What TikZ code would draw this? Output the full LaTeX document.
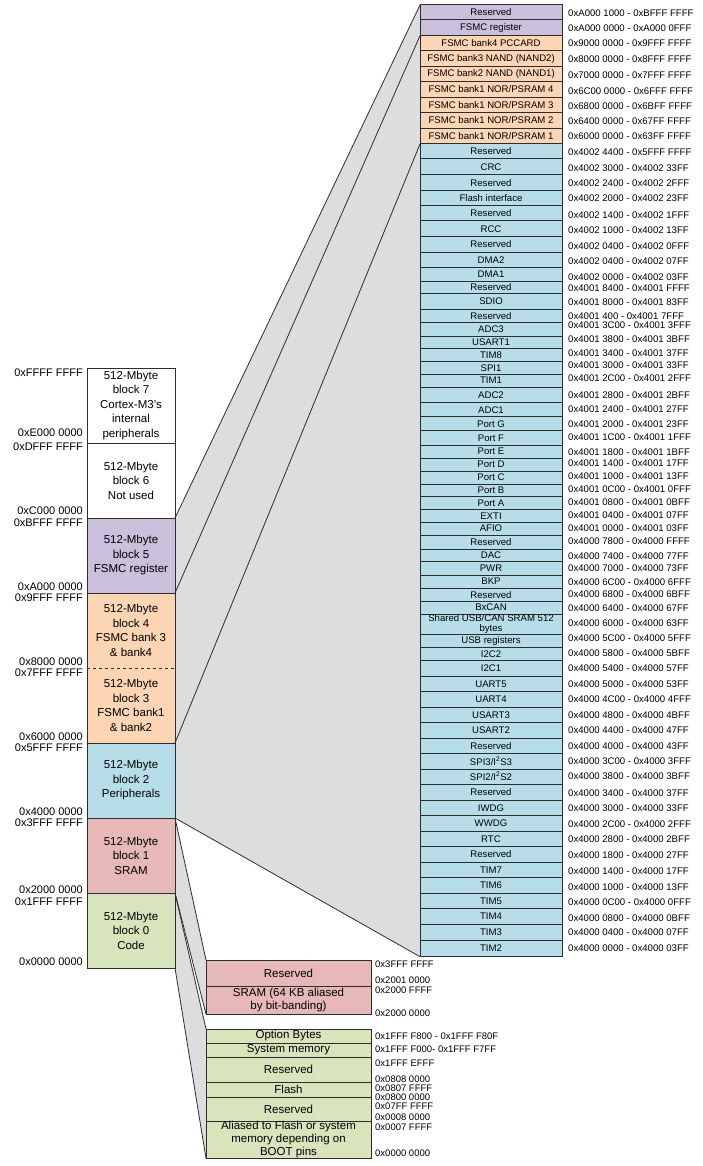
\documentclass[tikz,border=0pt]{standalone}
\usepackage{fontspec}
\setmainfont{Liberation Sans}
\usetikzlibrary{backgrounds}
\definecolor{lc}{RGB}{45,45,45}
\definecolor{cP}{RGB}{203,192,220}
\definecolor{cO}{RGB}{252,213,180}
\definecolor{cB}{RGB}{183,222,232}
\definecolor{cR}{RGB}{230,184,183}
\definecolor{cG}{RGB}{216,228,188}
\definecolor{bandgray}{RGB}{220,221,223}
\newcommand{\fA}{\fontsize{11.5}{14.5}\selectfont}
\newcommand{\fL}{\fontsize{11}{13}\selectfont}
\newcommand{\fB}{\fontsize{9.6}{10}\selectfont}
\newcommand{\fC}{\fontsize{11.5}{13}\selectfont}
\newcommand{\fD}{\fontsize{9.5}{10}\selectfont}
\tikzset{
  cell/.style={draw=lc, line width=1pt, minimum width=142pt, inner sep=0pt, outer sep=0pt, align=center, font=\fB},
  blk/.style={draw=lc, line width=1pt, minimum width=88pt, minimum height=75pt, inner sep=0pt, outer sep=0pt, align=center, font=\fA},
  bbox/.style={draw=lc, line width=1pt, minimum width=165pt, inner sep=0pt, outer sep=0pt, align=center, font=\fC},
  addr/.style={anchor=west, inner sep=0pt, font=\fB},
  baddr/.style={anchor=west, inner sep=0pt, font=\fD},
  laddr/.style={anchor=east, inner sep=0pt, font=\fL},
  proj/.style={draw=lc, line width=0.8pt},
}
\newcommand{\memrow}[7]{%
  \pgfmathsetmacro{\mrh}{#3-#2}%
  \pgfmathsetmacro{\mry}{(#2+#3)/2}%
  \node[cell, fill=#4, minimum height=\mrh pt] (#1) at (491,\mry) {#5};%
  \node[addr] (#1a) at (568,#7) {#6};%
}
\begin{document}
\begin{tikzpicture}[x=1pt,y=-1pt]
\useasboundingbox (0,0) rectangle (702,1166);

% ---- left column blocks
\node[blk, fill=white] (b7) at (131,405.5) {512-Mbyte\\block 7\\Cortex-M3's\\internal\\peripherals};
\node[blk, fill=white] (b6) at (131,480.5) {512-Mbyte\\block 6\\Not used};
\node[blk, fill=cP] (b5) at (131,555.5) {512-Mbyte\\block 5\\FSMC register};
\node[blk, fill=cO, draw=none] (b4) at (131,630.5) {512-Mbyte\\block 4\\FSMC bank 3\\\& bank4};
\node[blk, fill=cO, draw=none] (b3) at (131,705.5) {512-Mbyte\\block 3\\FSMC bank1\\\& bank2};
\draw[lc, line width=1pt] (b4.north west) rectangle (b3.south east);
\draw[lc, line width=0.9pt, dash pattern=on 3pt off 3pt] (b4.south west) -- (b4.south east);
\node[blk, fill=cB] (b2) at (131,780.5) {512-Mbyte\\block 2\\Peripherals};
\node[blk, fill=cR] (b1) at (131,855.5) {512-Mbyte\\block 1\\SRAM};
\node[blk, fill=cG] (b0) at (131,930.5) {512-Mbyte\\block 0\\Code};

% ---- left address labels
\node[laddr] (la1) at (83,373) {0xFFFF FFFF};
\node[laddr] (la2) at (83,433) {0xE000 0000};
\node[laddr] (la3) at (83,447) {0xDFFF FFFF};
\node[laddr] (la4) at (83,511) {0xC000 0000};
\node[laddr] (la5) at (83,523) {0xBFFF FFFF};
\node[laddr] (la6) at (83,587) {0xA000 0000};
\node[laddr] (la7) at (83,598) {0x9FFF FFFF};
\node[laddr] (la8) at (83,662) {0x8000 0000};
\node[laddr] (la9) at (83,673) {0x7FFF FFFF};
\node[laddr] (la10) at (83,737) {0x6000 0000};
\node[laddr] (la11) at (83,748) {0x5FFF FFFF};
\node[laddr] (la12) at (83,812) {0x4000 0000};
\node[laddr] (la13) at (83,823) {0x3FFF FFFF};
\node[laddr] (la14) at (83,890) {0x2000 0000};
\node[laddr] (la15) at (83,902) {0x1FFF FFFF};
\node[laddr] (la16) at (83,962) {0x0000 0000};

% ---- right column
\memrow{r1}{5}{20}{cP}{Reserved}{0xA000 1000 - 0xBFFF FFFF}{13}
\memrow{r2}{20}{35.7}{cP}{FSMC register}{0xA000 0000 - 0xA000 0FFF}{28}
\memrow{r3}{35.7}{50.7}{cO}{FSMC bank4 PCCARD}{0x9000 0000 - 0x9FFF FFFF}{43}
\memrow{r4}{50.7}{66.7}{cO}{FSMC bank3 NAND (NAND2)}{0x8000 0000 - 0x8FFF FFFF}{59}
\memrow{r5}{66.7}{81.7}{cO}{FSMC bank2 NAND (NAND1)}{0x7000 0000 - 0x7FFF FFFF}{75}
\memrow{r6}{81.7}{97.3}{cO}{FSMC bank1 NOR/PSRAM 4}{0x6C00 0000 - 0x6FFF FFFF}{91}
\memrow{r7}{97.3}{112.7}{cO}{FSMC bank1 NOR/PSRAM 3}{0x6800 0000 - 0x6BFF FFFF}{106}
\memrow{r8}{112.7}{128.3}{cO}{FSMC bank1 NOR/PSRAM 2}{0x6400 0000 - 0x67FF FFFF}{121}
\memrow{r9}{128.3}{144}{cO}{FSMC bank1 NOR/PSRAM 1}{0x6000 0000 - 0x63FF FFFF}{136}
\memrow{r10}{144}{159}{cB}{Reserved}{0x4002 4400 - 0x5FFF FFFF}{152}
\memrow{r11}{159}{175}{cB}{CRC}{0x4002 3000 - 0x4002 33FF}{168}
\memrow{r12}{175}{190.7}{cB}{Reserved}{0x4002 2400 - 0x4002 2FFF}{183}
\memrow{r13}{190.7}{205.7}{cB}{Flash interface}{0x4002 2000 - 0x4002 23FF}{198}
\memrow{r14}{205.7}{221}{cB}{Reserved}{0x4002 1400 - 0x4002 1FFF}{215}
\memrow{r15}{221}{236.7}{cB}{RCC}{0x4002 1000 - 0x4002 13FF}{230}
\memrow{r16}{236.7}{252.3}{cB}{Reserved}{0x4002 0400 - 0x4002 0FFF}{246}
\memrow{r17}{252.3}{267.7}{cB}{DMA2}{0x4002 0400 - 0x4002 07FF}{261}
\memrow{r18}{267.7}{281}{cB}{DMA1}{0x4002 0000 - 0x4002 03FF}{277}
\memrow{r19}{281}{293.3}{cB}{Reserved}{0x4001 8400 - 0x4001 FFFF}{288}
\memrow{r20}{293.3}{309}{cB}{SDIO}{0x4001 8000 - 0x4001 83FF}{302}
\memrow{r21}{309}{322.7}{cB}{Reserved}{0x4001 400 - 0x4001 7FFF}{316}
\memrow{r22}{322.7}{336}{cB}{ADC3}{0x4001 3C00 - 0x4001 3FFF}{325}
\memrow{r23}{336}{348.3}{cB}{USART1}{0x4001 3800 - 0x4001 3BFF}{339}
\memrow{r24}{348.3}{361.7}{cB}{TIM8}{0x4001 3400 - 0x4001 37FF}{353}
\memrow{r25}{361.7}{374}{cB}{SPI1}{0x4001 3000 - 0x4001 33FF}{365}
\memrow{r26}{374}{387.3}{cB}{TIM1}{0x4001 2C00 - 0x4001 2FFF}{378}
\memrow{r27}{387.3}{402.7}{cB}{ADC2}{0x4001 2800 - 0x4001 2BFF}{395}
\memrow{r28}{402.7}{416.7}{cB}{ADC1}{0x4001 2400 - 0x4001 27FF}{409}
\memrow{r29}{416.7}{430.7}{cB}{Port G}{0x4001 2000 - 0x4001 23FF}{424}
\memrow{r30}{430.7}{445}{cB}{Port F}{0x4001 1C00 - 0x4001 1FFF}{437}
\memrow{r31}{445}{458.3}{cB}{Port E}{0x4001 1800 - 0x4001 1BFF}{452}
\memrow{r32}{458.3}{471}{cB}{Port D}{0x4001 1400 - 0x4001 17FF}{463}
\memrow{r33}{471}{484}{cB}{Port C}{0x4001 1000 - 0x4001 13FF}{476}
\memrow{r34}{484}{496.7}{cB}{Port B}{0x4001 0C00 - 0x4001 0FFF}{489}
\memrow{r35}{496.7}{509.3}{cB}{Port A}{0x4001 0800 - 0x4001 0BFF}{502}
\memrow{r36}{509.3}{522.3}{cB}{EXTI}{0x4001 0400 - 0x4001 07FF}{515}
\memrow{r37}{522.3}{535}{cB}{AFIO}{0x4001 0000 - 0x4001 03FF}{528}
\memrow{r38}{535}{549}{cB}{Reserved}{0x4000 7800 - 0x4000 FFFF}{541}
\memrow{r39}{549}{561.7}{cB}{DAC}{0x4000 7400 - 0x4000 77FF}{556}
\memrow{r40}{561.7}{575}{cB}{PWR}{0x4000 7000 - 0x4000 73FF}{568}
\memrow{r41}{575}{588.3}{cB}{BKP}{0x4000 6C00 - 0x4000 6FFF}{582}
\memrow{r42}{588.3}{601}{cB}{Reserved}{0x4000 6800 - 0x4000 6BFF}{594}
\memrow{r43}{601}{614}{cB}{BxCAN}{0x4000 6400 - 0x4000 67FF}{608}
\memrow{r44}{614}{634}{cB}{Shared USB/CAN SRAM 512\\bytes}{0x4000 6000 - 0x4000 63FF}{623}
\memrow{r45}{634}{647.3}{cB}{USB registers}{0x4000 5C00 - 0x4000 5FFF}{638}
\memrow{r46}{647.3}{660.7}{cB}{I2C2}{0x4000 5800 - 0x4000 5BFF}{653}
\memrow{r47}{660.7}{676}{cB}{I2C1}{0x4000 5400 - 0x4000 57FF}{668}
\memrow{r48}{676}{691.7}{cB}{UART5}{0x4000 5000 - 0x4000 53FF}{684}
\memrow{r49}{691.7}{707.3}{cB}{UART4}{0x4000 4C00 - 0x4000 4FFF}{699}
\memrow{r50}{707.3}{722.7}{cB}{USART3}{0x4000 4800 - 0x4000 4BFF}{715}
\memrow{r51}{722.7}{738.3}{cB}{USART2}{0x4000 4400 - 0x4000 47FF}{730}
\memrow{r52}{738.3}{753.3}{cB}{Reserved}{0x4000 4000 - 0x4000 43FF}{746}
\memrow{r53}{753.3}{769}{cB}{SPI3/I\textsuperscript{2}S3}{0x4000 3C00 - 0x4000 3FFF}{761}
\memrow{r54}{769}{784}{cB}{SPI2/I\textsuperscript{2}S2}{0x4000 3800 - 0x4000 3BFF}{776}
\memrow{r55}{784}{800}{cB}{Reserved}{0x4000 3400 - 0x4000 37FF}{793}
\memrow{r56}{800}{815.7}{cB}{IWDG}{0x4000 3000 - 0x4000 33FF}{808}
\memrow{r57}{815.7}{831}{cB}{WWDG}{0x4000 2C00 - 0x4000 2FFF}{824}
\memrow{r58}{831}{846.7}{cB}{RTC}{0x4000 2800 - 0x4000 2BFF}{839}
\memrow{r59}{846.7}{862.3}{cB}{Reserved}{0x4000 1800 - 0x4000 27FF}{855}
\memrow{r60}{862.3}{877.7}{cB}{TIM7}{0x4000 1400 - 0x4000 17FF}{871}
\memrow{r61}{877.7}{893.3}{cB}{TIM6}{0x4000 1000 - 0x4000 13FF}{887}
\memrow{r62}{893.3}{908.3}{cB}{TIM5}{0x4000 0C00 - 0x4000 0FFF}{902}
\memrow{r63}{908.3}{924.3}{cB}{TIM4}{0x4000 0800 - 0x4000 0BFF}{918}
\memrow{r64}{924.3}{940}{cB}{TIM3}{0x4000 0400 - 0x4000 07FF}{932}
\memrow{r65}{940}{956.7}{cB}{TIM2}{0x4000 0000 - 0x4000 03FF}{948}

% ---- SRAM detail
\node[bbox, fill=cR, minimum height=26pt] (s1) at (288.5,973) {Reserved};
\node[bbox, fill=cR, minimum height=28pt] (s0) at (288.5,1000) {SRAM (64 KB aliased\\by bit-banding)};
\node[baddr] (sa1) at (375,964) {0x3FFF FFFF};
\node[baddr] (sa2) at (375,980) {0x2001 0000};
\node[baddr] (sa3) at (375,990) {0x2000 FFFF};
\node[baddr] (sa4) at (375,1013) {0x2000 0000};

% ---- Code detail
\node[bbox, fill=cG, minimum height=14pt] (c5) at (288.5,1036) {Option Bytes};
\node[bbox, fill=cG, minimum height=14pt] (c4) at (288.5,1050) {System memory};
\node[bbox, fill=cG, minimum height=25pt] (c3) at (288.5,1069.5) {Reserved};
\node[bbox, fill=cG, minimum height=15pt] (c2) at (288.5,1089.5) {Flash};
\node[bbox, fill=cG, minimum height=25pt] (c1) at (288.5,1109.5) {Reserved};
\node[bbox, fill=cG, minimum height=36pt] (c0) at (288.5,1140) {Aliased to Flash or system\\memory depending on\\BOOT pins};
\node[baddr] (ca1) at (375,1036) {0x1FFF F800 - 0x1FFF F80F};
\node[baddr] (ca2) at (375,1049) {0x1FFF F000- 0x1FFF F7FF};
\node[baddr] (ca3) at (375,1063) {0x1FFF EFFF};
\node[baddr] (ca4) at (375,1079) {0x0808 0000};
\node[baddr] (ca5) at (375,1088) {0x0807 FFFF};
\node[baddr] (ca6) at (375,1097) {0x0800 0000};
\node[baddr] (ca7) at (375,1106) {0x07FF FFFF};
\node[baddr] (ca8) at (375,1117) {0x0008 0000};
\node[baddr] (ca9) at (375,1127) {0x0007 FFFF};
\node[baddr] (ca10) at (375,1153) {0x0000 0000};

% ---- projection bands
\begin{scope}[on background layer]
  \fill[white] (0,0) rectangle (702,1166);
  \fill[bandgray] (b5.north east) -- (r1.north west) -- (r65.south west) -- (b2.south east) -- cycle;
  \fill[bandgray] (b1.north east) -- (s1.north west) -- (s0.south west) -- (b1.south east) -- cycle;
  \fill[bandgray] (b0.north east) -- (c5.north west) -- (c0.south west) -- (b0.south east) -- cycle;
\end{scope}
\draw[proj] (b5.north east) -- (r1.north west);
\draw[proj] (b5.south east) -- (r3.north west);
\draw[proj] (b3.south east) -- (r10.north west);
\draw[proj] (b2.south east) -- (r65.south west);
\draw[proj] (b1.north east) -- (s1.north west);
\draw[proj] (b1.south east) -- (s0.south west);
\draw[proj] (b0.north east) -- (c5.north west);
\draw[proj] (b0.south east) -- (c0.south west);
\end{tikzpicture}
\end{document}
